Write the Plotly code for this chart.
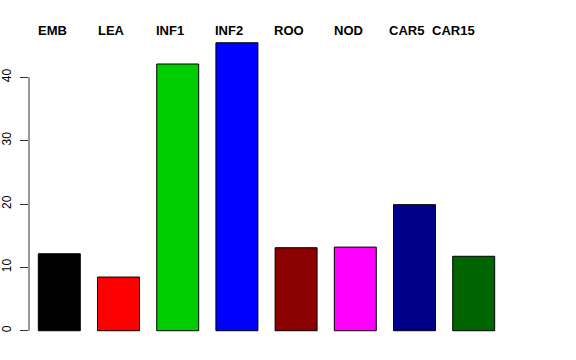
import plotly.graph_objects as go

categories = ["EMB", "LEA", "INF1", "INF2", "ROO", "NOD", "CAR5", "CAR15"]
values = [12.15, 8.47, 42.1, 45.45, 13.1, 13.2, 19.9, 11.75]
colors = ["#000000", "#FF0000", "#00CD00", "#0000FF", "#8B0000", "#FF00FF", "#00008B", "#006400"]
y_ticks = [0, 10, 20, 30, 40]

positions = list(range(len(categories)))
bar_width = 0.709
label_shift = [-2.5, -1.5, -2.5, -3, -3, -2.5, -7, -23]

fig = go.Figure()
fig.add_trace(go.Bar(
    x=positions, y=values, width=bar_width,
    marker=dict(color=colors, line=dict(color="#000000", width=1)),
    showlegend=False, hoverinfo="skip",
))

for i, name in enumerate(categories):
    fig.add_annotation(
        x=i - bar_width / 2, xref="x", xanchor="left", xshift=label_shift[i],
        y=1.0016, yref="paper", yanchor="middle",
        text="<b>" + name + "</b>", showarrow=False,
        font=dict(family="Liberation Sans", size=13, color="#000000"),
    )

# y axis line spanning only from first to last tick (R style)
fig.add_shape(type="line", xref="paper", yref="y", x0=0, x1=0,
              y0=y_ticks[0], y1=y_ticks[-1], line=dict(color="#333333", width=1))

fig.update_layout(
    width=576, height=360,
    margin=dict(l=29, r=72, t=31, b=18, autoexpand=False),
    paper_bgcolor="white", plot_bgcolor="white",
    xaxis=dict(range=[-0.512, 7.512], visible=False, automargin=False),
    yaxis=dict(range=[-1.78, 47.31], tickvals=y_ticks, ticks="outside", ticklen=8,
               tickcolor="#333333", tickwidth=1, tickangle=-90,
               showgrid=False, zeroline=False, showline=False, automargin=False,
               ticklabelstandoff=4,
               tickfont=dict(family="Liberation Sans", size=12, color="#000000")),
    font=dict(family="Liberation Sans"),
)

fig.write_html("out.html", config={"displayModeBar": False},
               post_script="document.body.style.margin='0';document.body.style.overflow='hidden';")
